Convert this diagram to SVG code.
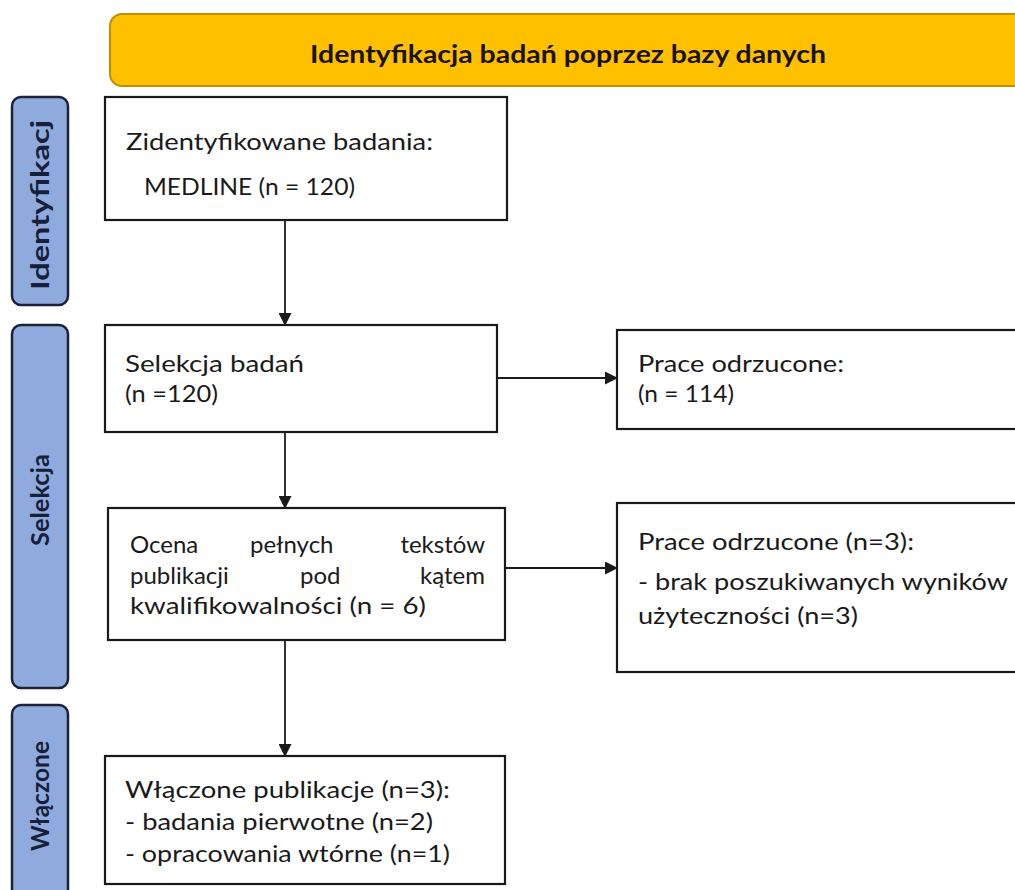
<svg xmlns="http://www.w3.org/2000/svg" width="1015" height="890" viewBox="0 0 1015 890">
<style>
.box{fill:#ffffff;stroke:#1a1a1a;stroke-width:2.2}
.lane{fill:#8faadc;stroke:#1c2233;stroke-width:2.5}
.lt{font-family:Lato,"Open Sans",sans-serif;font-weight:bold;font-size:24px;fill:#16203a;text-anchor:middle}
.t{font-family:Lato,"Open Sans",sans-serif;font-size:24px;fill:#1a1a1a}
.conn{stroke:#1a1a1a;stroke-width:1.8;fill:none;marker-end:url(#ah)}
</style>
<defs>
<marker id="ah" markerWidth="13" markerHeight="13" refX="12" refY="6.5" orient="auto" markerUnits="userSpaceOnUse">
<path d="M0,0 L13,6.5 L0,13 Z" fill="#1a1a1a"/>
</marker>
</defs>
<rect width="1015" height="890" fill="#ffffff"/>
<g id="banner">
<rect x="110" y="14" width="920" height="72" rx="12" fill="#ffc000" stroke="#bf9000" stroke-width="2"/>
<text x="568" y="63" font-family="Lato,Open Sans,sans-serif" font-weight="bold" font-size="25" fill="#1a1200" text-anchor="middle" textLength="516" lengthAdjust="spacingAndGlyphs">Identyfikacja badań poprzez bazy danych</text>
</g>
<g id="lane-identyfikacja">
<rect class="lane" x="12" y="97" width="56" height="208" rx="9"/>
<text class="lt" transform="translate(49,205) rotate(-90)" textLength="170" lengthAdjust="spacingAndGlyphs">Identyfikacj</text>
</g>
<g id="lane-selekcja">
<rect class="lane" x="12" y="325" width="56" height="363" rx="9"/>
<text class="lt" transform="translate(49,500) rotate(-90)" textLength="92" lengthAdjust="spacingAndGlyphs">Selekcja</text>
</g>
<g id="lane-wlaczone">
<rect class="lane" x="12" y="705" width="56" height="200" rx="9"/>
<text class="lt" transform="translate(49,796) rotate(-90)" textLength="110" lengthAdjust="spacingAndGlyphs">Włączone</text>
</g>
<g id="connectors">
<line class="conn" x1="285" y1="220" x2="285" y2="325"/>
<line class="conn" x1="497" y1="378" x2="617" y2="378"/>
<line class="conn" x1="285" y1="432" x2="285" y2="508"/>
<line class="conn" x1="505" y1="568" x2="617" y2="568"/>
<line class="conn" x1="285" y1="640" x2="285" y2="756"/>
</g>
<g id="box-identified">
<rect class="box" x="105" y="97" width="402" height="123"/>
<text class="t" x="126" y="150" textLength="307" lengthAdjust="spacingAndGlyphs">Zidentyfikowane badania:</text>
<text class="t" x="144" y="195" textLength="211" lengthAdjust="spacingAndGlyphs">MEDLINE (n = 120)</text>
</g>
<g id="box-selection">
<rect class="box" x="105" y="325" width="392" height="107"/>
<text class="t" x="125" y="372" textLength="179" lengthAdjust="spacingAndGlyphs">Selekcja badań</text>
<text class="t" x="125" y="402" textLength="93" lengthAdjust="spacingAndGlyphs">(n =120)</text>
</g>
<g id="box-excluded1">
<rect class="box" x="617" y="330" width="410" height="99"/>
<text class="t" x="638" y="372" textLength="206" lengthAdjust="spacingAndGlyphs">Prace odrzucone:</text>
<text class="t" x="638" y="402" textLength="96" lengthAdjust="spacingAndGlyphs">(n = 114)</text>
</g>
<g id="box-fulltext">
<rect class="box" x="108" y="508" width="397" height="132"/>
<text class="t" y="553"><tspan x="130">Ocena</tspan><tspan x="250">pełnych</tspan><tspan x="485" text-anchor="end">tekstów</tspan></text>
<text class="t" y="584"><tspan x="130">publikacji</tspan><tspan x="300">pod</tspan><tspan x="485" text-anchor="end">kątem</tspan></text>
<text class="t" x="130" y="614" textLength="296" lengthAdjust="spacingAndGlyphs">kwalifikowalności (n = 6)</text>
</g>
<g id="box-excluded2">
<rect class="box" x="617" y="503" width="410" height="169"/>
<text class="t" x="638" y="550" textLength="276" lengthAdjust="spacingAndGlyphs">Prace odrzucone (n=3):</text>
<text class="t" x="638" y="590" textLength="370" lengthAdjust="spacingAndGlyphs">- brak poszukiwanych wyników</text>
<text class="t" x="638" y="624" textLength="220" lengthAdjust="spacingAndGlyphs">użyteczności (n=3)</text>
</g>
<g id="box-included">
<rect class="box" x="105" y="756" width="400" height="128"/>
<text class="t" x="125" y="798" textLength="325" lengthAdjust="spacingAndGlyphs">Włączone publikacje (n=3):</text>
<text class="t" x="125" y="830" textLength="308" lengthAdjust="spacingAndGlyphs">- badania pierwotne (n=2)</text>
<text class="t" x="125" y="862" textLength="325" lengthAdjust="spacingAndGlyphs">- opracowania wtórne (n=1)</text>
</g>
</svg>
